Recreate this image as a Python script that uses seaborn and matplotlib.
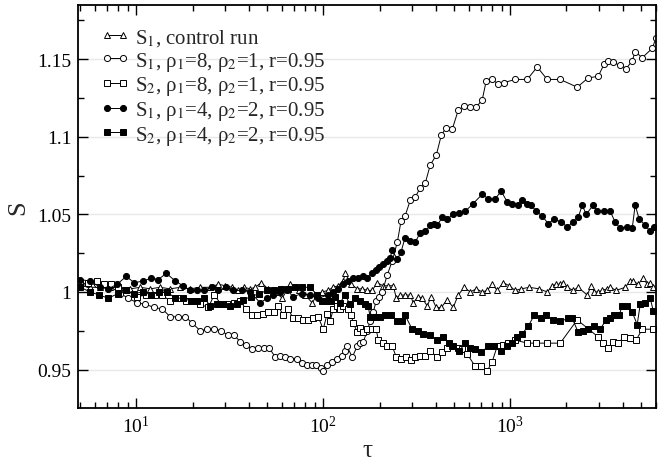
"""S(tau) for the control run and two (rho1, rho2) settings, log time axis."""

import matplotlib

matplotlib.use("Agg")
import matplotlib.pyplot as plt
import numpy as np
import pandas as pd
import seaborn as sns
from matplotlib.ticker import FixedLocator, FuncFormatter, LogLocator, NullFormatter

# S1, control run (open triangles)
tau_ctrl = [5.02, 5.68, 6.42, 7.26, 8.21, 9.29, 10.5, 11.9, 13.4, 15.2, 17.2, 19.4, 22.0, 24.9,
            27.5, 29.9, 32.6, 35.1, 37.8, 40.7, 43.3, 46.6, 50.8, 55.4, 60.4, 66.6, 69.1, 74.4,
            80.1, 87.3, 92.9, 98.8, 106, 113, 120, 128, 131, 141, 152, 162, 172, 183, 194, 209,
            223, 237, 246, 258, 274, 292, 303, 322, 338, 360, 378, 402, 428, 460, 496, 527, 568,
            611, 658, 709, 753, 801, 852, 918, 988, 1063, 1145, 1264, 1429, 1578, 1677, 1762,
            1851, 1920, 2018, 2172, 2310, 2581, 2713, 2813, 2955, 3105, 3302, 3426, 3688, 4121,
            4383, 4548, 4837, 5143, 5403, 5606, 5817]
s_ctrl = [1.004, 1.003, 1.003, 1.003, 1.003, 1.002, 1.003, 1.002, 1.003, 1.002, 1.003, 1.002,
          1.003, 1.003, 1.005, 1.004, 1.003, 1.001, 1.003, 1.002, 1.003, 1.006, 1.002, 1.000,
          0.996, 1.005, 1.003, 1.001, 0.998, 0.993, 0.998, 1.000, 1.001, 1.003, 1.004, 1.007,
          1.012, 1.005, 1.002, 1.002, 1.001, 1.001, 1.006, 1.004, 1.004, 1.004, 0.996, 0.998,
          0.998, 0.998, 0.993, 0.997, 0.996, 0.991, 0.997, 0.990, 0.990, 0.995, 0.990, 0.998,
          1.003, 1.000, 1.002, 1.000, 1.001, 1.005, 1.001, 1.006, 1.004, 1.001, 1.002, 1.003,
          1.002, 1.000, 1.004, 1.005, 1.005, 1.006, 1.003, 1.001, 1.003, 0.998, 1.004, 1.000,
          1.000, 1.001, 1.002, 1.003, 1.001, 1.003, 1.007, 1.007, 1.005, 1.009, 1.005, 1.006,
          1.003]

# S1, rho1=8, rho2=1 (open circles)
tau_s1_81 = [5.02, 5.54, 6.18, 7.17, 8.21, 9.06, 10.1, 11.2, 12.5, 13.8, 15.2, 16.8, 18.3, 19.9,
             22.0, 24.0, 26.1, 28.5, 31.0, 33.4, 36.0, 38.7, 41.7, 44.9, 48.4, 51.4, 55.4, 58.9,
             62.6, 66.6, 72.6, 77.2, 82.1, 87.3, 91.8, 97.6, 100, 105, 112, 119, 126, 131, 134,
             143, 152, 158, 164, 172, 178, 185, 192, 199, 207, 220, 234, 249, 261, 274, 292,
             310, 330, 351, 374, 402, 428, 455, 490, 527, 568, 611, 658, 709, 744, 801, 863,
             929, 1063, 1233, 1394, 1578, 1851, 2282, 2613, 2955, 3183, 3342, 3554, 3874, 4172,
             4492, 4660, 5081, 5746, 6036]
s_s1_81 = [1.004, 1.005, 1.005, 1.004, 0.999, 0.996, 0.993, 0.992, 0.990, 0.989, 0.984, 0.984,
           0.984, 0.980, 0.975, 0.976, 0.976, 0.975, 0.972, 0.972, 0.968, 0.966, 0.963, 0.964,
           0.964, 0.964, 0.958, 0.959, 0.958, 0.957, 0.957, 0.954, 0.953, 0.953, 0.953, 0.951,
           0.949, 0.953, 0.955, 0.957, 0.959, 0.962, 0.965, 0.958, 0.965, 0.967, 0.968, 0.975,
           0.981, 0.987, 0.994, 0.997, 1.000, 1.011, 1.020, 1.032, 1.046, 1.049, 1.059, 1.061,
           1.067, 1.070, 1.082, 1.088, 1.101, 1.106, 1.105, 1.117, 1.120, 1.119, 1.119, 1.124,
           1.136, 1.137, 1.134, 1.135, 1.137, 1.137, 1.145, 1.137, 1.137, 1.132, 1.138, 1.139,
           1.147, 1.149, 1.148, 1.146, 1.144, 1.149, 1.155, 1.151, 1.157, 1.164]

# S2, rho1=8, rho2=1 (open squares)
tau_s2_81 = [5.02, 5.54, 6.18, 6.74, 7.35, 8.01, 8.84, 10.1, 11.3, 12.6, 13.8, 15.2, 16.8, 18.5,
             20.2, 22.0, 24.3, 26.1, 28.5, 30.7, 33.4, 36.0, 38.7, 41.7, 44.4, 47.8, 50.8, 54.7,
             57.5, 61.1, 65.0, 69.1, 73.5, 78.2, 83.2, 88.4, 94.0, 100, 105, 109, 113, 119, 123,
             128, 136, 141, 145, 152, 158, 164, 172, 183, 192, 197, 209, 220, 234, 246, 261, 278,
             295, 310, 330, 351, 374, 407, 433, 460, 490, 527, 554, 589, 650, 700, 753, 801, 852,
             918, 976, 1063, 1233, 1377, 1578, 1851, 2282, 2955, 3144, 3342, 3554, 3780, 4071,
             4383, 4719, 5081, 5817]
s_s2_81 = [1.005, 1.006, 1.007, 1.005, 1.005, 1.003, 1.001, 0.997, 0.998, 0.998, 0.998, 0.994,
           0.996, 0.994, 0.994, 0.992, 0.990, 0.998, 0.992, 0.992, 0.993, 0.994, 0.989, 0.985,
           0.985, 0.986, 0.987, 0.987, 0.991, 0.985, 0.989, 0.983, 0.983, 0.982, 0.982, 0.983,
           0.984, 0.976, 0.986, 0.981, 0.989, 0.991, 0.989, 0.991, 0.989, 0.985, 0.980, 0.974,
           0.977, 0.974, 0.976, 0.976, 0.976, 0.969, 0.967, 0.965, 0.965, 0.958, 0.957, 0.958,
           0.956, 0.958, 0.959, 0.959, 0.962, 0.958, 0.961, 0.964, 0.965, 0.964, 0.963, 0.960,
           0.952, 0.952, 0.949, 0.955, 0.965, 0.966, 0.967, 0.969, 0.967, 0.967, 0.967, 0.967,
           0.982, 0.971, 0.967, 0.964, 0.968, 0.967, 0.971, 0.970, 0.969, 0.976, 0.976]

# S1, rho1=4, rho2=2 (filled circles)
tau_s1_42 = [5.02, 5.68, 6.42, 7.09, 7.91, 8.84, 9.76, 10.9, 12.0, 13.1, 14.5, 16.2, 17.8, 19.4,
             21.2, 23.1, 25.5, 27.5, 30.3, 33.0, 36.9, 40.7, 46.0, 50.2, 54.0, 58.9, 64.2, 69.1,
             77.2, 85.2, 94.0, 106, 113, 120, 128, 136, 145, 154, 164, 172, 183, 192, 199, 209,
             220, 228, 234, 249, 261, 274, 292, 310, 330, 351, 374, 392, 407, 433, 460, 496, 534,
             575, 634, 709, 763, 831, 895, 964, 1025, 1104, 1159, 1233, 1295, 1377, 1483, 1597,
             1719, 1874, 2018, 2172, 2310, 2427, 2549, 2779, 2919, 3183, 3426, 3643, 3874, 4224,
             4492, 4660, 4896, 5272, 5606, 5890]
s_s1_42 = [1.008, 1.007, 1.003, 1.002, 1.005, 1.010, 1.006, 1.007, 1.009, 1.008, 1.012, 1.007,
           1.004, 1.001, 1.001, 1.001, 1.003, 1.001, 1.003, 1.001, 1.001, 1.000, 0.993, 0.996,
           0.998, 1.000, 1.001, 0.997, 0.999, 0.998, 0.996, 0.998, 1.000, 1.002, 1.005, 1.007,
           1.009, 1.009, 1.010, 1.009, 1.012, 1.014, 1.016, 1.018, 1.020, 1.022, 1.027, 1.021,
           1.026, 1.035, 1.033, 1.032, 1.038, 1.039, 1.043, 1.044, 1.043, 1.048, 1.047, 1.050,
           1.051, 1.052, 1.057, 1.063, 1.060, 1.060, 1.065, 1.058, 1.057, 1.056, 1.059, 1.057,
           1.056, 1.052, 1.049, 1.044, 1.047, 1.045, 1.042, 1.045, 1.048, 1.056, 1.050, 1.056,
           1.052, 1.052, 1.052, 1.045, 1.041, 1.042, 1.041, 1.056, 1.047, 1.043, 1.039, 1.042]

# S2, rho1=4, rho2=2 (filled squares)
tau_s2_42 = [5.02, 5.68, 6.34, 7.09, 8.01, 8.84, 9.76, 10.9, 12.0, 13.3, 14.6, 16.2, 17.8, 19.7,
             21.2, 23.1, 24.9, 27.1, 29.2, 31.8, 34.7, 37.3, 41.2, 45.5, 50.2, 54.7, 59.6, 65.0,
             70.8, 77.2, 85.2, 92.9, 98.8, 105, 110, 116, 123, 131, 139, 148, 158, 168, 174, 178,
             190, 202, 215, 231, 249, 265, 274, 299, 322, 343, 374, 407, 438, 472, 496, 534, 575,
             611, 650, 700, 763, 821, 895, 964, 1025, 1090, 1159, 1249, 1344, 1465, 1558, 1698,
             1851, 2043, 2146, 2310, 2457, 2613, 2813, 3025, 3262, 3426, 3599, 3827, 3971, 4224,
             4492, 4777, 4958, 5272, 5606, 5817]
s_s2_42 = [1.003, 1.000, 0.998, 0.996, 0.999, 1.001, 0.999, 1.000, 0.998, 1.000, 1.000, 0.996,
           0.996, 0.994, 0.994, 0.996, 0.991, 0.992, 0.992, 0.991, 0.992, 0.995, 0.997, 0.999,
           1.001, 1.001, 1.002, 1.002, 1.003, 1.003, 1.003, 0.998, 0.994, 0.994, 0.994, 0.997,
           0.993, 0.998, 0.992, 0.996, 0.994, 0.992, 0.991, 0.984, 0.984, 0.984, 0.985, 0.985,
           0.981, 0.981, 0.985, 0.976, 0.975, 0.973, 0.972, 0.969, 0.971, 0.967, 0.965, 0.962,
           0.967, 0.964, 0.963, 0.961, 0.965, 0.965, 0.962, 0.965, 0.967, 0.971, 0.973, 0.978,
           0.985, 0.983, 0.985, 0.982, 0.981, 0.983, 0.983, 0.974, 0.975, 0.976, 0.978, 0.976,
           0.982, 0.983, 0.985, 0.985, 0.991, 0.991, 0.987, 0.979, 0.992, 0.993, 0.996, 0.988]

labels = [
    "S$_1$, control run",
    "S$_1$, ρ$_1$=8, ρ$_2$=1, r=0.95",
    "S$_2$, ρ$_1$=8, ρ$_2$=1, r=0.95",
    "S$_1$, ρ$_1$=4, ρ$_2$=2, r=0.95",
    "S$_2$, ρ$_1$=4, ρ$_2$=2, r=0.95",
]
y_major = [0.95, 1.0, 1.05, 1.1, 1.15]
y_minor = [0.975, 1.025, 1.075, 1.125, 1.175]


if __name__ == "__main__":
    sns.set_style("ticks")
    plt.rcParams["font.family"] = ["Liberation Serif", "DejaVu Serif"]
    plt.rcParams["mathtext.fontset"] = "stix"

    series = [
        (tau_ctrl, s_ctrl, "^", "white", 4.6),
        (tau_s1_81, s_s1_81, "o", "white", 4.4),
        (tau_s2_81, s_s2_81, "s", "white", 3.9),
        (tau_s1_42, s_s1_42, "o", "black", 4.4),
        (tau_s2_42, s_s2_42, "s", "black", 3.9),
    ]

    fig = plt.figure(figsize=(6.68, 4.64), dpi=100)
    ax = fig.add_axes([0.1172, 0.1179, 0.8644, 0.8692])

    for y in y_major:
        ax.axhline(y, color="#e8e8e8", lw=1.0, zorder=0)

    handles = []
    for (tau, s, marker, face, size), label in zip(series, labels):
        df = pd.DataFrame({"tau": tau, "S": s})
        sns.lineplot(
            data=df, x="tau", y="S", ax=ax, estimator=None, sort=False,
            color="black", lw=0.7, marker=marker, markersize=size,
            markerfacecolor=face, markeredgecolor="black", markeredgewidth=0.7,
            label=label, legend=False,
        )
        handles.append(ax.lines[-1])

    ax.set_xscale("log")
    ax.set_xlim(4.9, 6000)
    ax.set_ylim(0.925, 1.185)

    ax.xaxis.set_major_locator(LogLocator(base=10, numticks=10))
    ax.xaxis.set_minor_locator(LogLocator(base=10, subs=np.arange(2, 10), numticks=20))
    ax.xaxis.set_minor_formatter(NullFormatter())
    ax.yaxis.set_major_locator(FixedLocator(y_major))
    ax.yaxis.set_minor_locator(FixedLocator(y_minor))
    ax.yaxis.set_major_formatter(FuncFormatter(lambda v, p: f"{v:g}"))

    ax.tick_params(which="both", direction="in", top=True, right=True, width=1.0,
                   labelsize=14, colors="black")
    ax.tick_params(which="major", length=7, pad=5)
    ax.tick_params(which="minor", length=4)
    for sp in ax.spines.values():
        sp.set_linewidth(1.3)
        sp.set_color("black")

    ax.set_xlabel("τ", fontsize=18, labelpad=2)
    ax.set_ylabel("S", fontsize=19, labelpad=6)

    ax.legend(handles, labels, loc="upper left", bbox_to_anchor=(0.025, 0.966),
              frameon=False, fontsize=15, handlelength=1.35, handletextpad=0.3,
              labelspacing=0.08, borderaxespad=0, numpoints=2)

    plt.savefig("out.png", dpi=100)
